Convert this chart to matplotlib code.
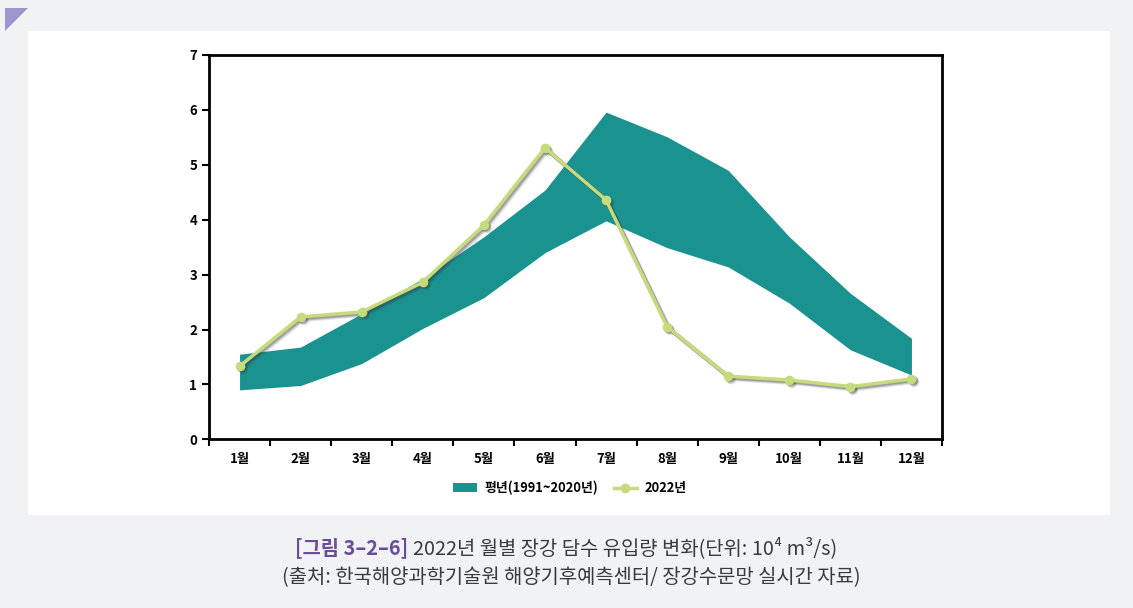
import matplotlib.pyplot as plt
from matplotlib import transforms
from matplotlib.patches import Rectangle, Polygon, Patch
from matplotlib.lines import Line2D

plt.rcParams['font.family'] = ['Noto Sans CJK KR', 'DejaVu Sans']

# data (unit: 10^4 m3/s)
months = ['1월', '2월', '3월', '4월', '5월', '6월', '7월', '8월', '9월', '10월', '11월', '12월']
normal_low = [0.90, 0.98, 1.38, 2.02, 2.58, 3.40, 3.98, 3.49, 3.14, 2.48, 1.63, 1.17]
normal_high = [1.55, 1.68, 2.29, 2.93, 3.69, 4.54, 5.96, 5.51, 4.90, 3.69, 2.66, 1.84]
flow_2022 = [1.33, 2.23, 2.32, 2.86, 3.90, 5.31, 4.36, 2.05, 1.15, 1.08, 0.96, 1.10]

band_color = '#1a9390'
line_color = '#c6dc7c'

W, H = 1133, 608
fig = plt.figure(figsize=(W / 100, H / 100), dpi=100)
fig.patch.set_facecolor('#f1f2f4')

# white panel + purple corner
fig.patches.append(Rectangle((28 / W, 1 - 515 / H), (1110 - 28) / W, (515 - 31) / H,
                             transform=fig.transFigure, facecolor='white', edgecolor='none', zorder=-2))
fig.patches.append(Polygon([(5 / W, 1 - 8 / H), (28 / W, 1 - 8 / H), (5 / W, 1 - 31 / H)],
                           closed=True, transform=fig.transFigure, facecolor='#9d97cf',
                           edgecolor='none', zorder=-2))

ax = fig.add_axes([209 / W, 1 - 439.3 / H, (942 - 209) / W, (439.3 - 55) / H])
ax.set_zorder(1)
ax.set_facecolor('white')

x = list(range(1, len(months) + 1))
ax.fill_between(x, normal_low, normal_high, color=band_color, linewidth=0)

# soft drop shadow under the 2022 line
for dx, a in [(3, 0.12), (2, 0.2), (1.2, 0.25)]:
    shadow = transforms.offset_copy(ax.transData, fig=fig, x=dx, y=-dx, units='dots')
    ax.plot(x, flow_2022, color='#333333', alpha=a, linewidth=3, marker='o', markersize=7,
            markeredgewidth=0, transform=shadow)
ax.plot(x, flow_2022, color=line_color, linewidth=2.5, marker='o', markersize=7,
        markeredgewidth=0)

ax.set_xlim(0.5, 12.5)
ax.set_ylim(0, 7)
ax.set_yticks(range(0, 8))
ax.set_xticks([i + 0.5 for i in range(0, 13)])
ax.set_xticklabels([])
ax.set_xticks(x, minor=True)
ax.set_xticklabels(months, minor=True)
ax.tick_params(axis='x', which='major', direction='out', length=5, width=1.5)
ax.tick_params(axis='x', which='minor', length=0, pad=9)
ax.tick_params(axis='y', direction='out', length=5, width=1.5)
for lab in ax.get_xticklabels(minor=True) + ax.get_yticklabels():
    lab.set_fontweight('bold')
    lab.set_fontsize(9.5)
for s in ax.spines.values():
    s.set_linewidth(2)
    s.set_color('black')

handles = [Patch(facecolor=band_color, edgecolor='none'),
           Line2D([], [], color=line_color, linewidth=2.5, marker='o', markersize=6)]
fig.legend(handles, ['평년(1991~2020년)', '2022년'], loc='center',
           bbox_to_anchor=(570 / W, 1 - 488 / H), ncol=2, frameon=False,
           prop={'weight': 'bold', 'size': 9.3}, handlelength=1.8, handletextpad=0.6,
           columnspacing=1.2)

# caption
fig.text(408 / W, 1 - 548 / H, '[그림 3–2–6]', ha='right', va='center', fontsize=14.3,
         color='#6a4c9c', fontweight='bold')
fig.text(413 / W, 1 - 548 / H, '2022년 월별 장강 담수 유입량 변화(단위: 10⁴ m³/s)', ha='left',
         va='center', fontsize=14.3, color='#3a3a3a')
fig.text(571 / W, 1 - 578 / H, '(출처: 한국해양과학기술원 해양기후예측센터/ 장강수문망 실시간 자료)',
         ha='center', va='center', fontsize=14.3, color='#3a3a3a')

fig.savefig('out.png', dpi=100, facecolor=fig.get_facecolor())
